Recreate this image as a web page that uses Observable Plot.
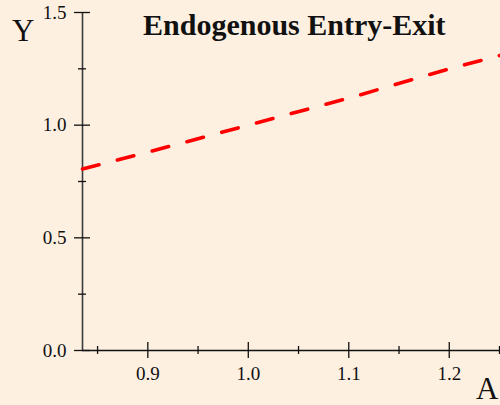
<!DOCTYPE html>
<html>
<head>
<meta charset="utf-8">
<script src="https://cdn.jsdelivr.net/npm/d3@7"></script>
<script src="https://cdn.jsdelivr.net/npm/@observablehq/plot@0.6"></script>
<style>
  html, body { margin: 0; padding: 0; background: #FDF0E1; }
  #wrap { position: relative; width: 500px; height: 405px; overflow: hidden; background: #FDF0E1; }
  .lbl { position: absolute; font-family: "Liberation Serif", "DejaVu Serif", serif; color: #111; white-space: nowrap; line-height: 1; }
  #title { left: 143px; top: 10px; font-size: 30px; font-weight: bold; }
  #ylab { left: 12px; top: 15px; font-size: 31px; }
  #xlab { left: 476px; top: 373px; font-size: 31px; }
</style>
</head>
<body>
<div id="wrap">
  <div id="chart"></div>
  <div class="lbl" id="title">Endogenous Entry-Exit</div>
  <div class="lbl" id="ylab">Y</div>
  <div class="lbl" id="xlab">A</div>
</div>
<script>
// Data
const A = [0.835, 0.9, 1.0, 1.1, 1.2, 1.251];
const Y = [0.805, 0.88, 1.0, 1.12, 1.25, 1.31];
const xDomain = [0.835, 1.251];
const yDomain = [0, 1.5];
const xMajor = [0.9, 1.0, 1.1, 1.2];
const xMinor = [0.85, 0.95, 1.05, 1.15, 1.25];
const yMajor = [0.0, 0.5, 1.0, 1.5];
const yMinor = [0.25, 0.75, 1.25];

const pts = A.map((a, i) => ({A: a, Y: Y[i]}));

const W = 500, H = 405, mL = 82, mR = 0, mT = 12, mB = 55;
const fw = W - mL - mR, fh = H - mT - mB;

const chart = Plot.plot({
  width: W, height: H,
  marginLeft: mL, marginRight: mR, marginTop: mT, marginBottom: mB,
  style: {background: "transparent", fontFamily: "Liberation Serif, DejaVu Serif, serif", fontSize: "19px", color: "#111", overflow: "visible"},
  x: {domain: xDomain, ticks: xMajor, tickSize: 0, tickPadding: 16, tickFormat: d3.format(".1f"), label: null},
  y: {domain: yDomain, ticks: yMajor, tickSize: 0, tickPadding: 16, tickFormat: d3.format(".1f"), label: null},
  marks: [
    Plot.ruleY([yDomain[0]], {stroke: "#111", strokeWidth: 1.4}),
    Plot.ruleX([xDomain[0]], {stroke: "#3a3a3a", strokeWidth: 1.6}),
    Plot.tickX(xMajor, {x: d => d, stroke: "#111", strokeWidth: 1.3, insetTop: fh - 8, insetBottom: -8}),
    Plot.tickX(xMinor, {x: d => d, stroke: "#111", strokeWidth: 1.3, insetTop: fh - 4, insetBottom: -4}),
    Plot.tickY(yMajor, {y: d => d, stroke: "#111", strokeWidth: 1.3, insetLeft: -8, insetRight: fw - 8}),
    Plot.tickY(yMinor, {y: d => d, stroke: "#111", strokeWidth: 1.3, insetLeft: -4, insetRight: fw - 4}),
    Plot.line(pts, {x: "A", y: "Y", stroke: "#ff0000", strokeWidth: 3.6, strokeDasharray: "17,19", strokeLinecap: "round"})
  ]
});
document.getElementById("chart").appendChild(chart);
</script>
</body>
</html>
